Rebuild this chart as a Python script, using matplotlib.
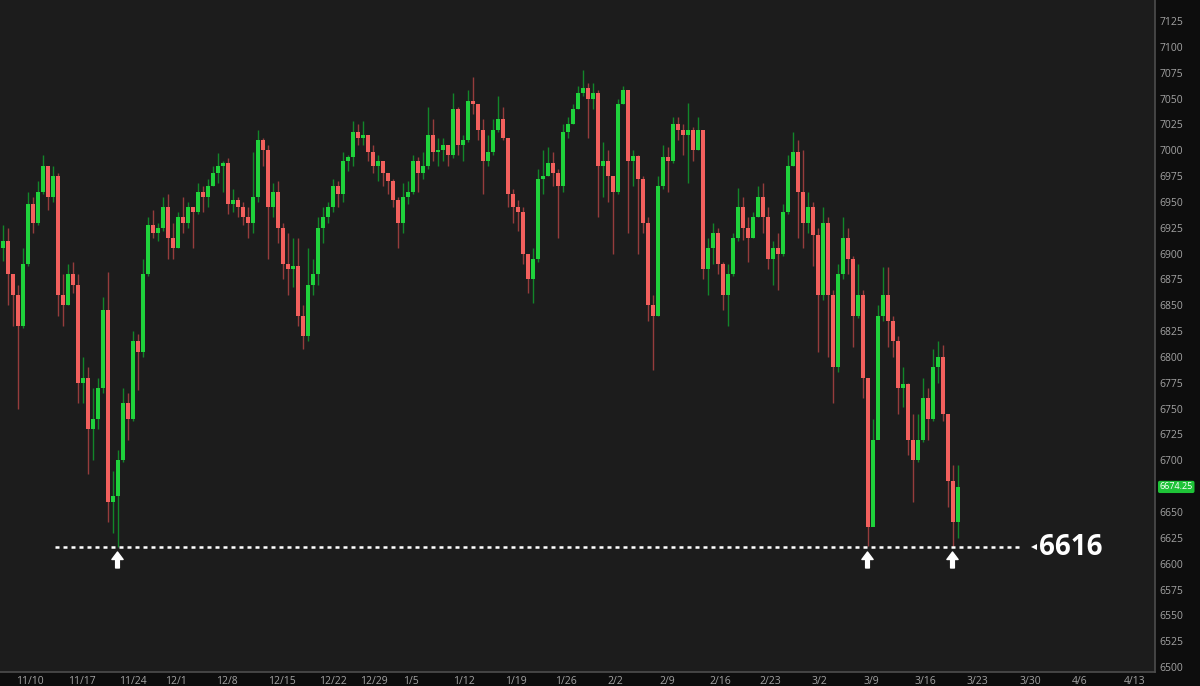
import numpy as np
import matplotlib.pyplot as plt
from matplotlib.transforms import blended_transform_factory

# support level marked on the chart
LEVEL = 6616

# half-session candles (open = previous close)
first_open = 6905
closes = [
    6912, 6880, 6860, 6830, 6890, 6948, 6930, 6960, 6985, 6955,
    6975, 6860, 6850, 6880, 6870, 6775, 6780, 6730, 6740, 6770,
    6845, 6660, 6665, 6700, 6755, 6740, 6815, 6805, 6880, 6928,
    6920, 6925, 6945, 6915, 6905, 6935, 6930, 6945, 6940, 6960,
    6955, 6965, 6978, 6985, 6988, 6948, 6952, 6945, 6935, 6930,
    6955, 7010, 7000, 6945, 6960, 6925, 6890, 6885, 6888, 6840,
    6820, 6870, 6880, 6925, 6935, 6945, 6965, 6958, 6990, 6993,
    7018, 7012, 7015, 6998, 6985, 6990, 6978, 6970, 6952, 6930,
    6955, 6960, 6990, 6978, 6985, 7015, 6998, 7000, 7005, 6995,
    7040, 7005, 7010, 7048, 7045, 7020, 6990, 6998, 7020, 7030,
    7012, 6958, 6945, 6940, 6900, 6875, 6895, 6972, 6975, 6988,
    6978, 6965, 7018, 7025, 7040, 7055, 7060, 7050, 7055, 6985,
    6990, 6975, 6960, 7045, 7058, 6990, 6994, 6972, 6930, 6850,
    6840, 6965, 6993, 6990, 7025, 7020, 7015, 7020, 7000, 7020,
    6885, 6905, 6920, 6890, 6860, 6880, 6915, 6945, 6925, 6915,
    6935, 6955, 6935, 6895, 6905, 6900, 6940, 6985, 6998, 6960,
    6930, 6945, 6918, 6860, 6930, 6860, 6790, 6880, 6915, 6895,
    6840, 6860, 6780, 6635, 6720, 6840, 6860, 6835, 6815, 6770,
    6774, 6720, 6700, 6720, 6760, 6740, 6790, 6800, 6745, 6680,
    6640, 6674.25,
]
highs = [
    6928, 6925, 6880, 6870, 6905, 6960, 6955, 6970, 6995, 6985,
    6985, 6978, 6880, 6890, 6892, 6880, 6800, 6790, 6770, 6780,
    6858, 6882, 6690, 6710, 6770, 6765, 6825, 6822, 6895, 6935,
    6942, 6930, 6955, 6958, 6930, 6940, 6955, 6950, 6945, 6968,
    6965, 6972, 6985, 6997, 6990, 6992, 6962, 6955, 6950, 6945,
    6998, 7020, 7012, 7005, 6968, 6970, 6930, 6920, 6915, 6915,
    6850, 6905, 6895, 6935, 6945, 6950, 6972, 6970, 6998, 6995,
    7028, 7025, 7028, 7015, 7005, 6995, 6990, 6978, 6972, 6955,
    6968, 6970, 6995, 6993, 6998, 7042, 7030, 7012, 7012, 7005,
    7055, 7042, 7015, 7058, 7071, 7045, 7030, 7015, 7030, 7052,
    7042, 6970, 6962, 6952, 6945, 6900, 6905, 6982, 7000, 7003,
    6998, 6982, 7025, 7032, 7045, 7062, 7078, 7065, 7065, 7058,
    7008, 7000, 6975, 7050, 7062, 7058, 7000, 6995, 6975, 6935,
    6860, 6975, 7005, 7003, 7032, 7032, 7025, 7046, 7022, 7032,
    7020, 6915, 6930, 6925, 6892, 6890, 6920, 6963, 6955, 6935,
    6940, 6965, 6968, 6945, 6912, 6920, 6948, 6995, 7018, 7010,
    7000, 6960, 6950, 6925, 6945, 6935, 6865, 6890, 6935, 6925,
    6898, 6890, 6865, 6780, 6740, 6850, 6887, 6887, 6840, 6820,
    6790, 6775, 6745, 6745, 6780, 6770, 6808, 6815, 6812, 6745,
    6695, 6695,
]
lows = [
    6893, 6850, 6830, 6750, 6828, 6888, 6920, 6928, 6958, 6942,
    6950, 6840, 6830, 6850, 6862, 6755, 6755, 6687, 6700, 6730,
    6765, 6640, 6630, 6616, 6698, 6720, 6738, 6768, 6800, 6878,
    6915, 6912, 6922, 6895, 6895, 6905, 6920, 6925, 6905, 6938,
    6940, 6945, 6965, 6968, 6960, 6938, 6940, 6935, 6928, 6915,
    6920, 6950, 6985, 6895, 6935, 6910, 6875, 6860, 6868, 6830,
    6808, 6815, 6860, 6870, 6910, 6930, 6940, 6945, 6950, 6980,
    6985, 7005, 7005, 6990, 6978, 6970, 6965, 6958, 6945, 6905,
    6920, 6948, 6958, 6960, 6972, 6982, 6990, 6985, 6990, 6985,
    6992, 6995, 6990, 7008, 7035, 7010, 6958, 6985, 6995, 7018,
    7010, 6945, 6930, 6922, 6890, 6862, 6852, 6892, 6958, 6975,
    6965, 6915, 6960, 7012, 7025, 7040, 7052, 7012, 7040, 6935,
    6955, 6950, 6900, 6958, 7045, 6920, 6965, 6900, 6920, 6835,
    6787, 6840, 6962, 6960, 6988, 7010, 6995, 6968, 6990, 7000,
    6875, 6860, 6890, 6880, 6845, 6830, 6878, 6912, 6913, 6892,
    6915, 6935, 6920, 6885, 6870, 6865, 6898, 6938, 6985, 6915,
    6905, 6920, 6888, 6805, 6855, 6800, 6755, 6785, 6875, 6880,
    6810, 6838, 6760, 6617, 6640, 6740, 6835, 6810, 6800, 6745,
    6752, 6705, 6660, 6698, 6718, 6720, 6738, 6775, 6738, 6655,
    6616, 6625,
]

# week labels and their position in bar units
week_labels = ['11/10', '11/17', '11/24', '12/1', '12/8', '12/15', '12/22', '12/29',
               '1/5', '1/12', '1/19', '1/26', '2/2', '2/9', '2/16', '2/23', '3/2',
               '3/9', '3/16', '3/23', '3/30', '4/6', '4/13']
week_pos = [5.5, 15.9, 26.1, 34.7, 44.9, 55.9, 66.1, 74.3, 81.7, 92.3, 102.7,
            112.7, 122.5, 132.9, 143.5, 153.6, 163.4, 173.7, 184.5, 194.9,
            205.5, 215.5, 226.5]

cl = np.array(closes, dtype=float)
hi = np.array(highs, dtype=float)
lo = np.array(lows, dtype=float)
op = np.r_[first_open, cl[:-1]]
x = np.arange(len(cl))
up = cl >= op

bg = '#1c1c1c'
fig = plt.figure(figsize=(12, 6.86), dpi=100, facecolor='#0d0d0d')
ax = fig.add_axes([0, 14 / 686, 1155 / 1200, 672 / 686])
ax.set_facecolor(bg)

# wicks (darker) then bodies
ax.vlines(x[up], lo[up], hi[up], color='#12862a', lw=1.0, zorder=2)
ax.vlines(x[~up], lo[~up], hi[~up], color='#953c3c', lw=1.0, zorder=2)
body = np.maximum(np.abs(cl - op), 0.8)
bottom = np.minimum(op, cl)
ax.bar(x[up], body[up], 0.8, bottom=bottom[up], color='#1fd23c', lw=0, zorder=3)
ax.bar(x[~up], body[~up], 0.8, bottom=bottom[~up], color='#f2605d', lw=0, zorder=3)

# support line with arrows under each touch
touches = np.where(lo <= LEVEL + 2)[0]
x0, x1 = touches[0] - 12.5, touches[-1] + 14
ax.hlines(LEVEL, x0, x1, colors='white', lw=1.8, linestyles=(0, (1.6, 1.6)), zorder=4)
for i in touches:
    ax.annotate('', xy=(i, LEVEL), xytext=(0, -15), textcoords='offset points',
                arrowprops=dict(arrowstyle='simple,head_width=0.9,head_length=0.6,tail_width=0.3',
                                color='white', shrinkA=0, shrinkB=3.5, mutation_scale=9))
ax.plot(x1 + 2.2, LEVEL, marker='<', ms=4.5, color='white', mew=0)
ax.text(x1 + 3.4, LEVEL, f'{LEVEL}', color='white', fontsize=20, fontweight='bold',
        family='Open Sans', ha='left', va='center')

# last price tag (it hides the tick label it sits on)
tr = blended_transform_factory(ax.transAxes, ax.transData)
ax.text(1.004, cl[-1], f'{cl[-1]:.2f}', transform=tr, color='white', fontsize=6.5,
        family='Open Sans', ha='left', va='center', clip_on=False,
        bbox=dict(boxstyle='round,pad=0.18,rounding_size=0.2', fc='#1ec337', ec='none'))

yticks = np.arange(6500, 7126, 25)
ax.set_xlim(-0.5, 230.5)
ax.set_ylim(6495.2, 7145.3)
ax.yaxis.tick_right()
ax.set_yticks(yticks)
ax.set_yticklabels(['' if abs(t - cl[-1]) < 10 else str(t) for t in yticks])
ax.set_xticks(week_pos)
ax.set_xticklabels(week_labels)
ax.tick_params(axis='both', length=0, labelsize=7.5, labelcolor='#a3a3a3')
ax.tick_params(axis='y', pad=3)
ax.tick_params(axis='x', pad=3)
for lab in ax.get_xticklabels() + ax.get_yticklabels():
    lab.set_family('Open Sans')
for s in ['top', 'left']:
    ax.spines[s].set_visible(False)
for s in ['right', 'bottom']:
    ax.spines[s].set_color('#4d4d4d')
    ax.spines[s].set_linewidth(1.2)

fig.savefig('out.png', dpi=100, facecolor=fig.get_facecolor())
